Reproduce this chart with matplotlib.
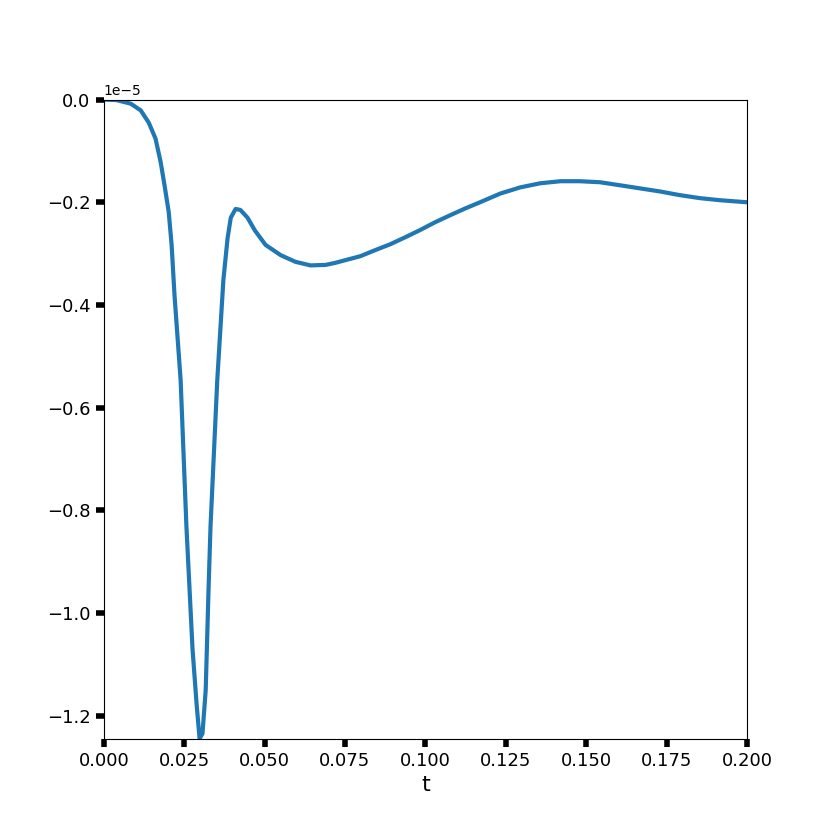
import numpy as np
import matplotlib.pyplot as plt

# === Data (values in units of 1e-5) ===
t = [0.0, 0.0040, 0.0084, 0.0115, 0.0140, 0.0161, 0.0177, 0.0189, 0.0202, 0.0211,
     0.0220, 0.0239, 0.0257, 0.0276, 0.0289, 0.0298, 0.0307, 0.0317, 0.0326, 0.0332,
     0.0353, 0.0372, 0.0385, 0.0395, 0.0410, 0.0425, 0.0447, 0.0470, 0.0503, 0.0550,
     0.0596, 0.0643, 0.0690, 0.0720, 0.0750, 0.0798, 0.0845, 0.0890, 0.0938, 0.0984,
     0.1030, 0.1078, 0.1124, 0.1170, 0.1233, 0.1295, 0.1357, 0.1420, 0.1480, 0.1543,
     0.1606, 0.1668, 0.1730, 0.1790, 0.1854, 0.1916, 0.2000]
u = [0.0, -0.001, -0.008, -0.021, -0.045, -0.076, -0.122, -0.167, -0.219, -0.283,
     -0.381, -0.546, -0.831, -1.07, -1.18, -1.245, -1.235, -1.15, -0.95, -0.831,
     -0.546, -0.351, -0.27, -0.23, -0.213, -0.215, -0.23, -0.255, -0.283, -0.303,
     -0.316, -0.323, -0.322, -0.318, -0.313, -0.305, -0.293, -0.282, -0.268, -0.254,
     -0.239, -0.225, -0.212, -0.200, -0.183, -0.171, -0.163, -0.159, -0.159, -0.161,
     -0.167, -0.173, -0.179, -0.186, -0.192, -0.196, -0.200]

t = np.array(t)
u = np.array(u) * 1e-5

# === Plot ===
fig, ax = plt.subplots(figsize=(8.3, 8.3), dpi=100)
ax.plot(t, u, color="#1f77b4", linewidth=3)
ax.set_xlim(t.min(), t.max())
ax.set_ylim(u.min(), 0.0)
ax.set_xlabel("t", fontsize=16)
ax.tick_params(labelsize=13, width=4, length=6)
plt.savefig("out.png")
